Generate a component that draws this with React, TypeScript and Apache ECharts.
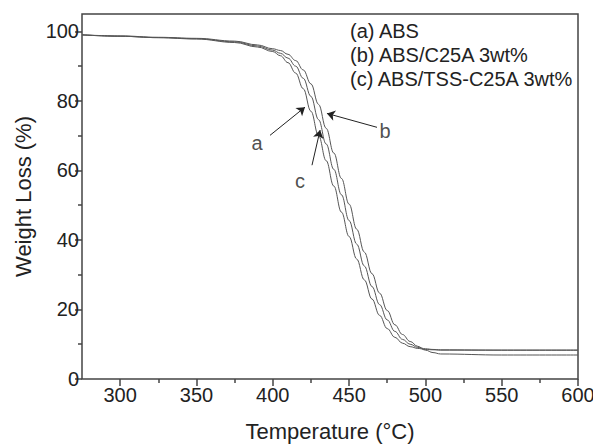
import React, { useEffect, useRef } from "react";
import * as echarts from "echarts";

const temps = [275, 300, 325, 350, 375, 390, 400, 405, 410, 415, 420, 425, 430, 435, 440, 445, 450, 455, 460, 465, 470, 475, 480, 485, 490, 495, 500, 505, 510, 550, 600];
const seriesA = [99.0, 98.6, 98.2, 97.8, 96.8, 95.5, 94.2, 93.0, 91.0, 88.0, 83.5, 77.0, 70.0, 62.8, 55.5, 48.0, 41.0, 34.5, 28.5, 23.0, 18.3, 14.5, 12.0, 10.3, 9.3, 8.8, 8.5, 8.4, 8.3, 8.3, 8.3];
const seriesB = [99.0, 98.7, 98.3, 98.0, 97.2, 96.1, 95.0, 94.5, 93.4, 91.6, 88.9, 84.9, 79.0, 72.1, 65.0, 57.7, 50.3, 43.1, 36.5, 30.3, 24.7, 19.7, 15.6, 12.8, 10.8, 9.4, 8.3, 7.6, 7.2, 6.9, 6.9];
const seriesC = [99.0, 98.6, 98.2, 97.9, 97.0, 95.8, 94.6, 93.7, 92.3, 90.0, 86.5, 81.3, 74.6, 67.6, 60.3, 53.0, 45.6, 38.8, 32.5, 26.6, 21.4, 17.0, 13.7, 11.4, 10.0, 9.1, 8.7, 8.5, 8.4, 8.3, 8.3];

const xMajorTicks = [300, 350, 400, 450, 500, 550, 600];
const xMinorTicks = [325, 375, 425, 475, 525, 575];
const yMajorTicks = [0, 20, 40, 60, 80, 100];
const yMinorTicks = [10, 30, 50, 70, 90];

const legendLines = ["(a) ABS", "(b) ABS/C25A 3wt%", "(c) ABS/TSS-C25A 3wt%"];

// annotation arrows: [from, to] in data coordinates
const arrowA = [[398.2, 70.1], [421.1, 78.2]];
const arrowB = [[468.3, 72.4], [435.5, 76.4]];
const arrowC = [[425.7, 61.5], [431.0, 71.6]];
const labelPoints = [
  { name: "a", value: [389.7, 67.8] },
  { name: "b", value: [473.6, 71.3] },
  { name: "c", value: [417.9, 56.9] },
];

const FONT = "Liberation Sans, Arial, Helvetica, sans-serif";

export default function App() {
  const ref = useRef<HTMLDivElement>(null);
  useEffect(() => {
    if (!ref.current) return;
    const chart = echarts.init(ref.current, null, { renderer: "svg" });
    const lineStyle = { color: "#555", width: 1 };
    const mk = (vals: number[]) => temps.map((t, i) => [t, vals[i]]);
    const arrow = (a: number[][]) => [{ coord: a[0] }, { coord: a[1] }];
    chart.setOption({
      animation: false,
      backgroundColor: "#fff",
      textStyle: { fontFamily: FONT },
      title: {
        text: legendLines.join("\n"),
        left: 350,
        top: 19,
        padding: 0,
        textStyle: { fontFamily: FONT, fontSize: 20, fontWeight: "normal", color: "#222", lineHeight: 24 },
      },
      grid: {
        left: 82,
        right: 15,
        top: 14,
        bottom: 69,
        show: true,
        borderColor: "#444",
        borderWidth: 1.5,
        containLabel: false,
        outerBoundsMode: "none",
      },
      xAxis: [
        {
          type: "value",
          min: 275,
          max: 600,
          position: "bottom",
          name: "Temperature (°C)",
          nameLocation: "middle",
          nameGap: 41,
          nameTextStyle: { fontFamily: FONT, fontSize: 22, color: "#222" },
          axisLine: { show: false },
          splitLine: { show: false },
          axisTick: { show: true, customValues: xMajorTicks, length: 7, lineStyle: { color: "#444", width: 1.5 } },
          axisLabel: { customValues: xMajorTicks, fontFamily: FONT, fontSize: 20, color: "#222", margin: 6 },
        },
        {
          type: "value",
          min: 275,
          max: 600,
          position: "bottom",
          axisLine: { show: false },
          splitLine: { show: false },
          axisTick: { show: true, customValues: xMinorTicks, length: 4, lineStyle: { color: "#444", width: 1.5 } },
          axisLabel: { show: false },
        },
      ],
      yAxis: [
        {
          type: "value",
          min: 0,
          max: 105,
          position: "left",
          name: "Weight Loss (%)",
          nameLocation: "middle",
          nameGap: 47,
          nameTextStyle: { fontFamily: FONT, fontSize: 22, color: "#222" },
          axisLine: { show: false },
          splitLine: { show: false },
          axisTick: { show: true, customValues: yMajorTicks, length: 7, lineStyle: { color: "#444", width: 1.5 } },
          axisLabel: { customValues: yMajorTicks, fontFamily: FONT, fontSize: 20, color: "#222", margin: 3 },
        },
        {
          type: "value",
          min: 0,
          max: 105,
          position: "left",
          axisLine: { show: false },
          splitLine: { show: false },
          axisTick: { show: true, customValues: yMinorTicks, length: 4, lineStyle: { color: "#444", width: 1.5 } },
          axisLabel: { show: false },
        },
      ],
      series: [
        {
          name: "a",
          type: "line",
          data: mk(seriesA),
          showSymbol: false,
          smooth: 0.4,
          smoothMonotone: "x",
          lineStyle,
          silent: true,
          markLine: {
            silent: true,
            symbol: ["none", "arrow"],
            symbolSize: 8,
            label: { show: false },
            lineStyle: { color: "#222", width: 1, type: "solid" },
            data: [arrow(arrowA), arrow(arrowB), arrow(arrowC)],
          },
        },
        { name: "b", type: "line", data: mk(seriesB), showSymbol: false, smooth: 0.4, smoothMonotone: "x", lineStyle, silent: true },
        { name: "c", type: "line", data: mk(seriesC), showSymbol: false, smooth: 0.4, smoothMonotone: "x", lineStyle, silent: true },
        {
          name: "labels",
          type: "scatter",
          data: labelPoints,
          symbolSize: 0,
          silent: true,
          label: {
            show: true,
            position: "inside",
            formatter: "{b}",
            fontFamily: FONT,
            fontSize: 20,
            color: "#222",
          },
        },
      ],
    });
    return () => chart.dispose();
  }, []);
  return <div ref={ref} style={{ position: "fixed", left: 0, top: 0, width: 593, height: 448 }} />;
}
